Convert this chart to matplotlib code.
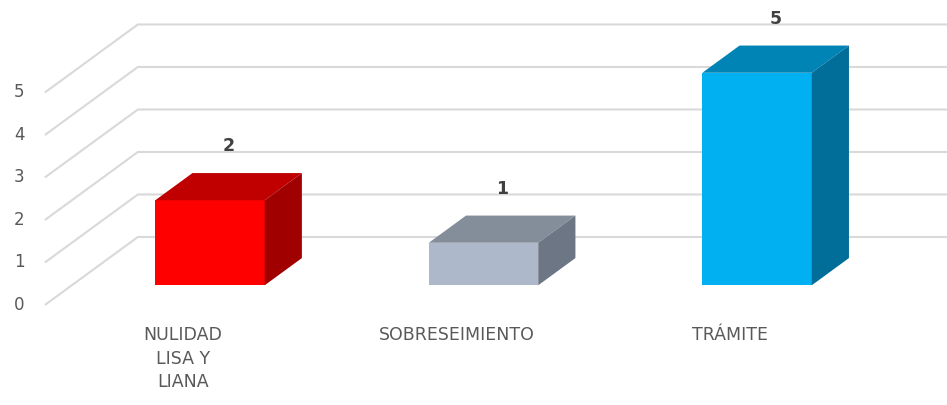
import matplotlib
matplotlib.use("Agg")
import matplotlib.pyplot as plt
from matplotlib.patches import Polygon

# data
categories = ["NULIDAD\nLISA Y\nLIANA", "SOBRESEIMIENTO", "TRÁMITE"]
values = [2, 1, 5]
ticks = [0, 1, 2, 3, 4, 5]

# face colours: front, top, side
front_colors = ["#FF0000", "#ADB9CA", "#00B0F0"]
top_colors = ["#C00000", "#848E9B", "#0083B5"]
side_colors = ["#A00000", "#6D7684", "#006E98"]

# pseudo-3d geometry (category units / value units)
floor_dx, floor_dy = 0.34, 1.6      # full floor depth offset
bar_w = 0.40
bar_d0, bar_d1 = 0.29, 0.69         # bar depth range (fraction of floor depth)


def proj(x, v, d):
    return x + d * floor_dx, v + d * floor_dy


plt.rcParams['font.family'] = ['DejaVu Sans']
fig = plt.figure(figsize=(9.47, 4.05), dpi=100)
ax = fig.add_axes([0, 0, 1, 1])
ax.set_xlim(-0.669, 2.793)
ax.set_ylim(-2.353, 7.176)
ax.axis('off')

# gridlines: side wall diagonal + back wall horizontal
x_left = -0.505
for t in ticks:
    x0, y0 = proj(x_left, t, 0)
    x1, y1 = proj(x_left, t, 1)
    ax.plot([x0, x1, 3.0], [y0, y1, y1], color="#D9D9D9", lw=1.5,
            solid_capstyle='butt', zorder=1)
    ax.text(x0 - 0.075, y0, str(t), ha='right', va='center', fontsize=12,
            color="#595959")

# bars
for i, v in enumerate(values):
    xl, xr = i - bar_w / 2, i + bar_w / 2
    fl = proj(xl, 0, bar_d0)
    fr = proj(xr, 0, bar_d0)
    flt = proj(xl, v, bar_d0)
    frt = proj(xr, v, bar_d0)
    blt = proj(xl, v, bar_d1)
    brt = proj(xr, v, bar_d1)
    br = proj(xr, 0, bar_d1)
    ax.add_patch(Polygon([fl, fr, frt, flt], closed=True, fc=front_colors[i], ec='none', zorder=3))
    ax.add_patch(Polygon([flt, frt, brt, blt], closed=True, fc=top_colors[i], ec='none', zorder=3))
    ax.add_patch(Polygon([fr, br, brt, frt], closed=True, fc=side_colors[i], ec='none', zorder=3))
    lx, ly = proj(i, v, (bar_d0 + bar_d1) / 2)
    ax.text(lx, ly + 0.74, str(v), ha='center', va='bottom', fontsize=12.5,
            fontweight='bold', color="#404040", zorder=4)

# category labels
for i, c in enumerate(categories):
    ax.text(i, -0.5, c, ha='center', va='top', fontsize=12.5, color="#595959",
            linespacing=1.38)

fig.savefig("out.png", dpi=100)
